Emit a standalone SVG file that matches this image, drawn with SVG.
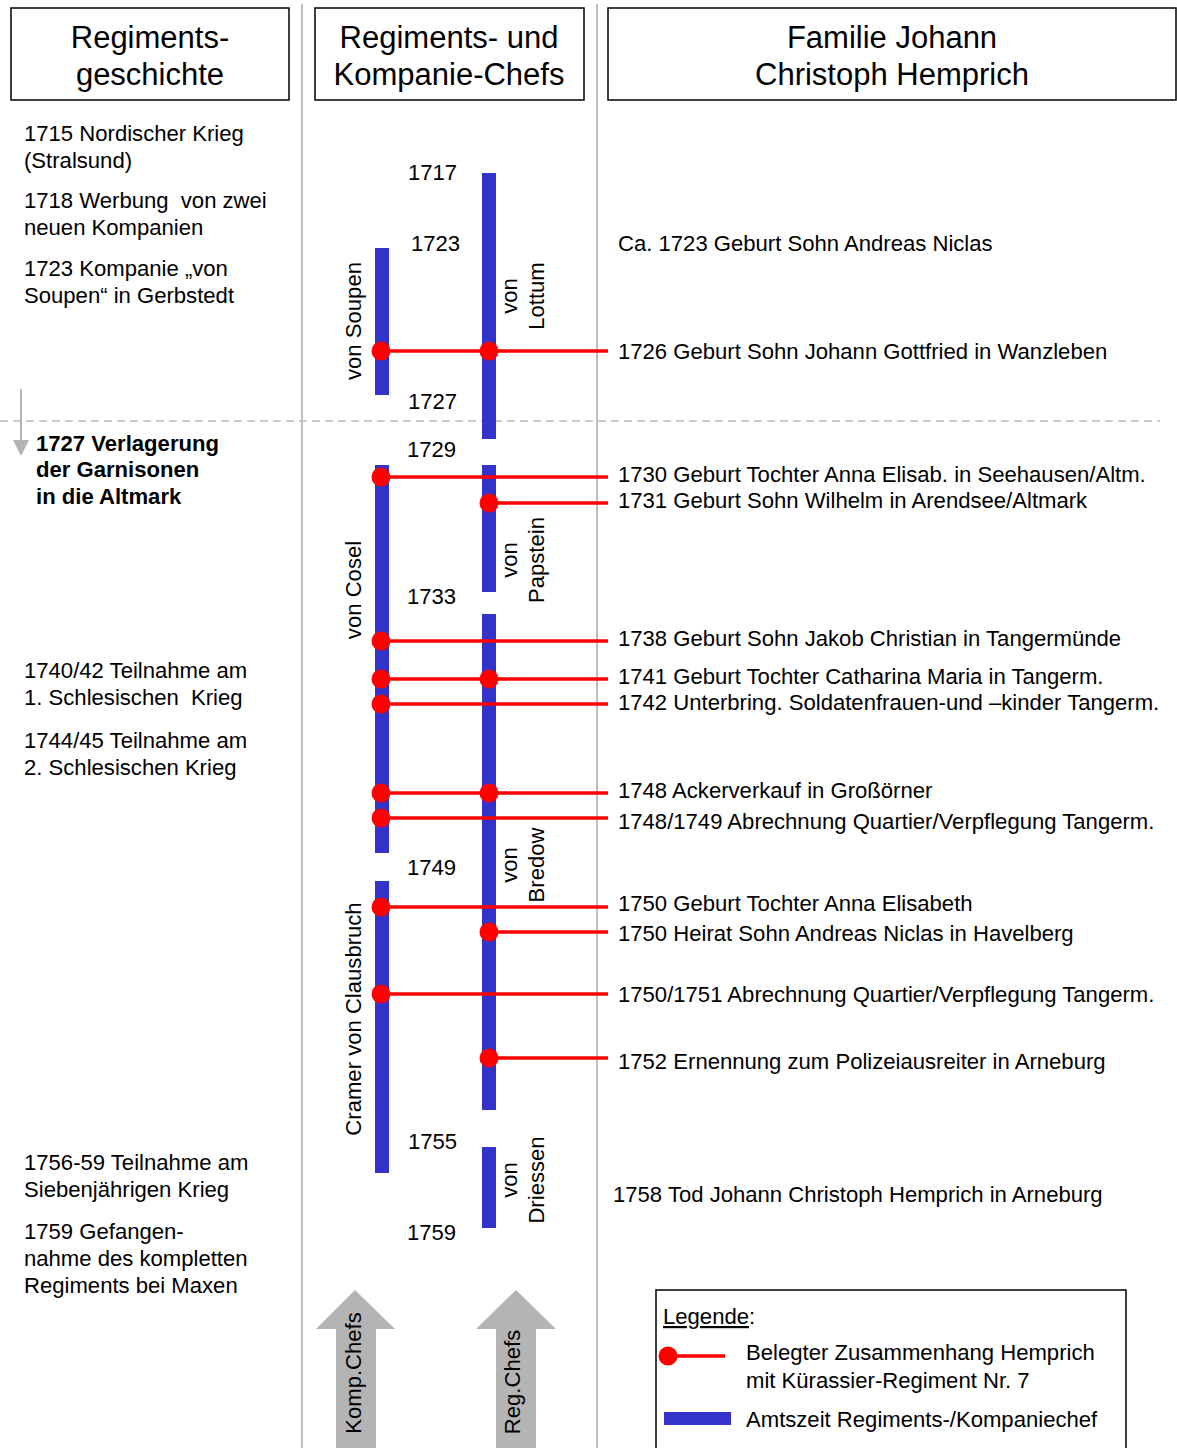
<svg xmlns="http://www.w3.org/2000/svg" width="1177" height="1448" viewBox="0 0 1177 1448">
<style>
text{font-family:"Liberation Sans",Arial,sans-serif;font-size:22.1px;fill:#000;white-space:pre}
.h{font-size:31px;text-anchor:middle}
.b{font-weight:bold}
.m{text-anchor:middle}
.bar{fill:#3333cc}
.rl{stroke:#ff0000;stroke-width:3.5}
.dot{fill:#ff0000}
.sep{stroke:#c0c0c0;stroke-width:2}
.box{fill:#fff;stroke:#000;stroke-width:1.5}
.ga{fill:#b4b4b4}
</style>
<rect width="1177" height="1448" fill="#fff"/>
<g id="separators">
<line class="sep" x1="302" y1="4" x2="302" y2="1448"/>
<line class="sep" x1="597" y1="4" x2="597" y2="1448"/>
<line x1="0" y1="421" x2="1160" y2="421" stroke="#bbb" stroke-width="1.5" stroke-dasharray="8 5"/>
</g>
<g id="header1"><rect class="box" x="11" y="8" width="278" height="92"/><text class="h" x="150" y="48">Regiments-</text><text class="h" x="150" y="85">geschichte</text></g>
<g id="header2"><rect class="box" x="315" y="8" width="269" height="92"/><text class="h" x="449" y="48">Regiments- und</text><text class="h" x="449" y="85">Kompanie-Chefs</text></g>
<g id="header3"><rect class="box" x="608" y="8" width="568" height="92"/><text class="h" x="892" y="48">Familie Johann</text><text class="h" x="892" y="85">Christoph Hemprich</text></g>
<g id="history">
<text x="24" y="141">1715 Nordischer Krieg</text><text x="24" y="168">(Stralsund)</text>
<text x="24" y="208" xml:space="preserve">1718 Werbung  von zwei</text><text x="24" y="235">neuen Kompanien</text>
<text x="24" y="276">1723 Kompanie „von</text><text x="24" y="303">Soupen“ in Gerbstedt</text>
<text class="b" x="36" y="451">1727 Verlagerung</text><text class="b" x="36" y="477">der Garnisonen</text><text class="b" x="36" y="504">in die Altmark</text>
<text x="24" y="678">1740/42 Teilnahme am</text><text x="24" y="705" xml:space="preserve">1. Schlesischen  Krieg</text>
<text x="24" y="748">1744/45 Teilnahme am</text><text x="24" y="775">2. Schlesischen Krieg</text>
<text x="24" y="1170">1756-59 Teilnahme am</text><text x="24" y="1197">Siebenjährigen Krieg</text>
<text x="24" y="1239">1759 Gefangen-</text><text x="24" y="1266">nahme des kompletten</text><text x="24" y="1293">Regiments bei Maxen</text>
<line x1="21" y1="389" x2="21" y2="441" stroke="#b4b4b4" stroke-width="2"/>
<polygon class="ga" points="13,440 29,440 21,456"/>
</g>
<g id="years">
<text x="408" y="180">1717</text><text x="411" y="251">1723</text><text x="408" y="409">1727</text><text x="407" y="457">1729</text><text x="407" y="604">1733</text><text x="407" y="875">1749</text><text x="408" y="1149">1755</text><text x="407" y="1240">1759</text>
</g>
<g id="bars">
<rect class="bar" x="375" y="248" width="14" height="147"/>
<rect class="bar" x="482" y="173" width="14" height="266"/>
<rect class="bar" x="375" y="465" width="14" height="388"/>
<rect class="bar" x="482" y="465" width="14" height="127"/>
<rect class="bar" x="375" y="881" width="14" height="292"/>
<rect class="bar" x="482" y="614" width="14" height="496"/>
<rect class="bar" x="482" y="1147" width="14" height="81"/>
</g>
<g id="chef-labels">
<text class="m" transform="rotate(-90 361 321)" x="361" y="321">von Soupen</text>
<text class="m" transform="rotate(-90 361 590)" x="361" y="590">von Cosel</text>
<text class="m" transform="rotate(-90 361 1019)" x="361" y="1019">Cramer von Clausbruch</text>
<g transform="translate(517 296) rotate(-90)"><text class="m" x="0" y="0">von</text><text class="m" x="0" y="27">Lottum</text></g>
<g transform="translate(517 560) rotate(-90)"><text class="m" x="0" y="0">von</text><text class="m" x="0" y="27">Papstein</text></g>
<g transform="translate(517 865) rotate(-90)"><text class="m" x="0" y="0">von</text><text class="m" x="0" y="27">Bredow</text></g>
<g transform="translate(517 1180) rotate(-90)"><text class="m" x="0" y="0">von</text><text class="m" x="0" y="27">Driessen</text></g>
</g>
<g id="connectors">
<line class="rl" x1="381" y1="351" x2="608" y2="351"/>
<line class="rl" x1="381" y1="477" x2="608" y2="477"/>
<line class="rl" x1="489" y1="503" x2="608" y2="503"/>
<line class="rl" x1="381" y1="641" x2="608" y2="641"/>
<line class="rl" x1="381" y1="679" x2="608" y2="679"/>
<line class="rl" x1="381" y1="704" x2="608" y2="704"/>
<line class="rl" x1="381" y1="793" x2="608" y2="793"/>
<line class="rl" x1="381" y1="818" x2="608" y2="818"/>
<line class="rl" x1="381" y1="907" x2="608" y2="907"/>
<line class="rl" x1="489" y1="932" x2="608" y2="932"/>
<line class="rl" x1="381" y1="994" x2="608" y2="994"/>
<line class="rl" x1="489" y1="1058" x2="608" y2="1058"/>
<circle class="dot" cx="381" cy="351" r="9.5"/><circle class="dot" cx="489" cy="351" r="9.5"/>
<circle class="dot" cx="381" cy="477" r="9.5"/>
<circle class="dot" cx="489" cy="503" r="9.5"/>
<circle class="dot" cx="381" cy="641" r="9.5"/>
<circle class="dot" cx="381" cy="679" r="9.5"/><circle class="dot" cx="489" cy="679" r="9.5"/>
<circle class="dot" cx="381" cy="704" r="9.5"/>
<circle class="dot" cx="381" cy="793" r="9.5"/><circle class="dot" cx="489" cy="793" r="9.5"/>
<circle class="dot" cx="381" cy="818" r="9.5"/>
<circle class="dot" cx="381" cy="907" r="9.5"/>
<circle class="dot" cx="489" cy="932" r="9.5"/>
<circle class="dot" cx="381" cy="994" r="9.5"/>
<circle class="dot" cx="489" cy="1058" r="9.5"/>
</g>
<g id="family">
<text x="618" y="251">Ca. 1723 Geburt Sohn Andreas Niclas</text>
<text x="618" y="359">1726 Geburt Sohn Johann Gottfried in Wanzleben</text>
<text x="618" y="482">1730 Geburt Tochter Anna Elisab. in Seehausen/Altm.</text>
<text x="618" y="508">1731 Geburt Sohn Wilhelm in Arendsee/Altmark</text>
<text x="618" y="646">1738 Geburt Sohn Jakob Christian in Tangermünde</text>
<text x="618" y="684">1741 Geburt Tochter Catharina Maria in Tangerm.</text>
<text x="618" y="710">1742 Unterbring. Soldatenfrauen-und –kinder Tangerm.</text>
<text x="618" y="798">1748 Ackerverkauf in Großörner</text>
<text x="618" y="829">1748/1749 Abrechnung Quartier/Verpflegung Tangerm.</text>
<text x="618" y="911">1750 Geburt Tochter Anna Elisabeth</text>
<text x="618" y="941">1750 Heirat Sohn Andreas Niclas in Havelberg</text>
<text x="618" y="1002">1750/1751 Abrechnung Quartier/Verpflegung Tangerm.</text>
<text x="618" y="1069">1752 Ernennung zum Polizeiausreiter in Arneburg</text>
<text x="613" y="1202">1758 Tod Johann Christoph Hemprich in Arneburg</text>
</g>
<g id="komp-arrow">
<polygon class="ga" points="355,1290 395,1329 376,1329 376,1448 336,1448 336,1329 316,1329"/>
<text class="m" transform="rotate(-90 361 1373)" x="361" y="1373">Komp.Chefs</text>
</g>
<g id="reg-arrow">
<polygon class="ga" points="516,1290 556,1329 536,1329 536,1448 496,1448 496,1329 476,1329"/>
<text class="m" transform="rotate(-90 520 1382)" x="520" y="1382">Reg.Chefs</text>
</g>
<g id="legend">
<rect class="box" x="656" y="1290" width="470" height="170"/>
<text x="663" y="1324"><tspan text-decoration="underline">Legende</tspan>:</text>
<line class="rl" x1="668" y1="1356" x2="725" y2="1356"/>
<circle class="dot" cx="668" cy="1356" r="9.5"/>
<text x="746" y="1360">Belegter Zusammenhang Hemprich</text>
<text x="746" y="1388">mit Kürassier-Regiment Nr. 7</text>
<rect class="bar" x="664" y="1412" width="67" height="13"/>
<text x="746" y="1427">Amtszeit Regiments-/Kompaniechef</text>
</g>
</svg>
